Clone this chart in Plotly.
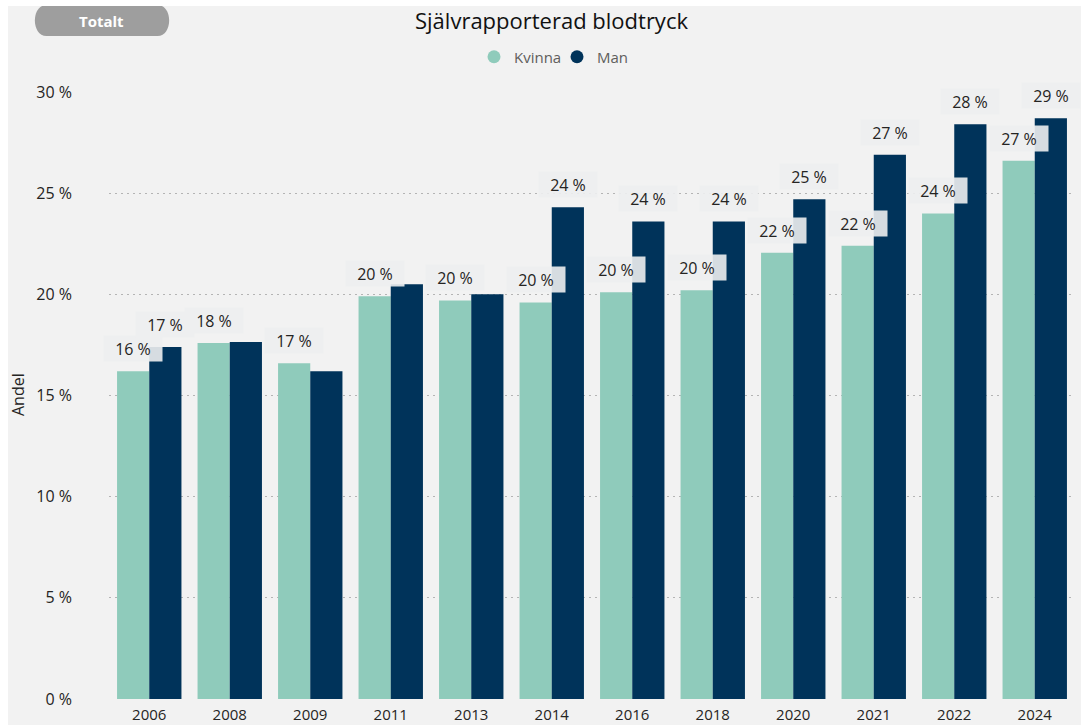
import plotly.graph_objects as go

years = ["2006", "2008", "2009", "2011", "2013", "2014", "2016", "2018", "2020", "2021", "2022", "2024"]
kvinna = [16.2, 17.6, 16.6, 19.9, 19.7, 19.6, 20.1, 20.2, 22.05, 22.4, 24.0, 26.6]
man = [17.4, 17.65, 16.2, 20.5, 20.0, 24.3, 23.6, 23.6, 24.7, 26.9, 28.4, 28.7]
show_kvinna = [True] * 12
show_man = [True, False, False, False, False, True, True, True, True, True, True, True]

C_K = "#8fcbbb"
C_M = "#00335a"
FONT = "Open Sans"

# page placement of the figure
OX, OY = 8, 6
FW, FH = 1073, 719
# plot area in page pixels
PX0, PX1, PY0, PY1 = 109, 1075, 92, 699
ML, MR, MT, MB = PX0 - OX, FW - (PX1 - OX), PY0 - OY, FH - (PY1 - OY)

def pxx(x):
    return (x - PX0) / (PX1 - PX0)

def py(y):
    return (PY1 - y) / (PY1 - PY0)

fig = go.Figure()
fig.add_bar(x=years, y=kvinna, name="Kvinna", marker=dict(color=C_K, line=dict(width=0)),
            showlegend=False)
fig.add_bar(x=years, y=man, name="Man", marker=dict(color=C_M, line=dict(width=0)),
            showlegend=False)
# legend entries with circle markers (points sit below the visible range)
fig.add_scatter(x=[years[0]], y=[-10], mode="markers", name="Kvinna",
                marker=dict(color=C_K, size=13, symbol="circle"), hoverinfo="skip")
fig.add_scatter(x=[years[0]], y=[-10], mode="markers", name="Man",
                marker=dict(color=C_M, size=13, symbol="circle"), hoverinfo="skip")

annotations = []
for series, shows, shift in ((kvinna, show_kvinna, -16), (man, show_man, 16)):
    for i, (v, s) in enumerate(zip(series, shows)):
        if not s:
            continue
        annotations.append(dict(
            x=i, y=v, xref="x", yref="y", xshift=shift, yshift=9,
            yanchor="bottom", xanchor="center", showarrow=False,
            text=f"{round(v):.0f} %", width=54, height=21, align="center", valign="middle",
            font=dict(family=FONT, size=16, color="#252423"),
            bgcolor="rgba(237,238,240,0.9)", borderpad=2,
        ))

annotations.append(dict(x=pxx(551), y=py(20), xref="paper", yref="paper",
                        text="Självrapporterad blodtryck", showarrow=False,
                        xanchor="center", yanchor="middle",
                        font=dict(family=FONT, size=22, color="#111111")))
annotations.append(dict(x=pxx(101), y=py(21), xref="paper", yref="paper",
                        text="<b>Totalt</b>", showarrow=False,
                        xanchor="center", yanchor="middle",
                        font=dict(family=FONT, size=15, color="#ffffff")))
annotations.append(dict(x=pxx(18), y=py(395), xref="paper", yref="paper",
                        text="Andel", showarrow=False, textangle=-90,
                        xanchor="center", yanchor="middle",
                        font=dict(family=FONT, size=16, color="#252423")))

def pill_path(x0, x1, y0, y1):
    X0, X1 = pxx(x0), pxx(x1)
    rx = pxx(x0 + (y1 - y0) / 2) - pxx(x0)
    Yt, Yb = py(y0), py(y1)
    return (f"M {X0+rx},{Yt} L {X1-rx},{Yt} "
            f"C {X1},{Yt} {X1},{Yb} {X1-rx},{Yb} "
            f"L {X0+rx},{Yb} C {X0},{Yb} {X0},{Yt} {X0+rx},{Yt} Z")

shapes = [
    dict(type="path", xref="paper", yref="paper", path=pill_path(31, 173, 5, 36),
         fillcolor="#9e9e9e", line=dict(width=0), layer="above"),
]

fig.update_layout(
    width=FW, height=FH,
    margin=dict(l=ML, r=MR, t=MT, b=MB, autoexpand=False),
    paper_bgcolor="#f2f2f2", plot_bgcolor="#f2f2f2",
    barmode="group", bargap=0.2, bargroupgap=0,
    shapes=shapes, annotations=annotations,
    legend=dict(orientation="h", x=pxx(474), y=py(57), xanchor="left", yanchor="middle",
                font=dict(family=FONT, size=15, color="#605e5c"),
                bgcolor="rgba(0,0,0,0)", itemwidth=30, tracegroupgap=0,
                entrywidth=38, entrywidthmode="pixels"),
    xaxis=dict(type="category", categoryorder="array", categoryarray=years,
               range=[-0.5, len(years) - 0.5],
               tickfont=dict(family=FONT, size=15, color="#252423"),
               showgrid=False, zeroline=False, showline=False, ticks="",
               ticklabelstandoff=5, automargin=False),
    yaxis=dict(range=[0, 30], dtick=5, ticksuffix=" %",
               tickfont=dict(family=FONT, size=16, color="#252423"),
               showgrid=True, gridcolor="#b4b4b4", griddash="1.5px,4.5px", gridwidth=1,
               zeroline=False, showline=False, ticks="", ticklabelstandoff=36,
               automargin=False),
)

fig.write_html(
    "out.html",
    post_script="document.body.style.margin='6px 0 0 8px';"
                "document.body.style.overflow='hidden';"
                "document.documentElement.style.overflow='hidden';",
)
